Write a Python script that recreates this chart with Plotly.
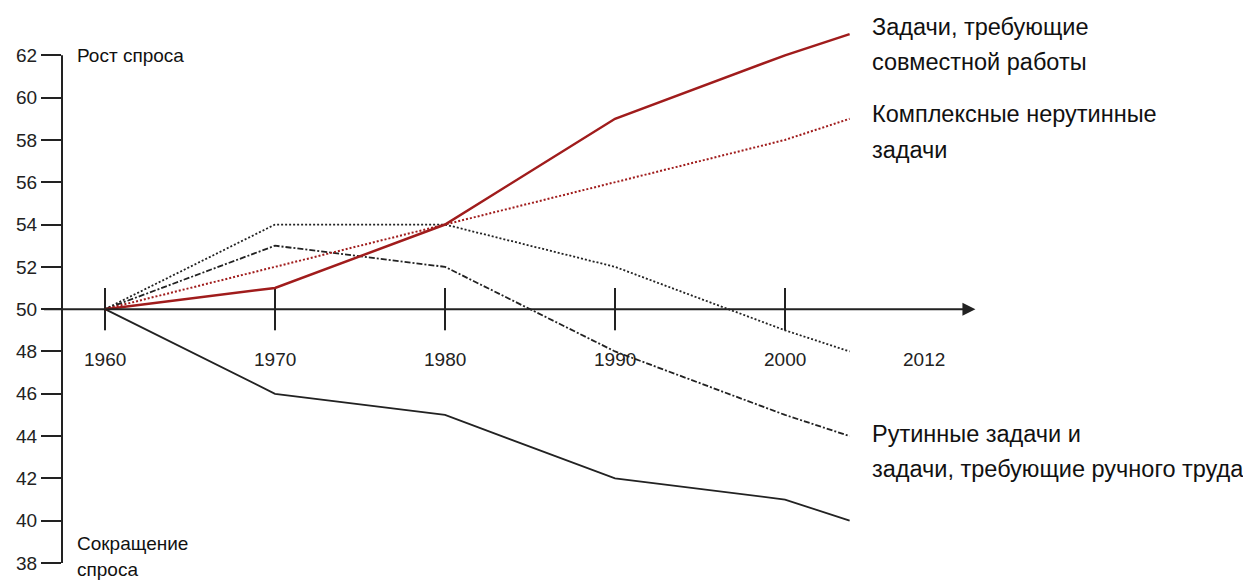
import plotly.graph_objects as go

# x positions of the points (last point is drawn short of the "2012" label)
years = [1960, 1970, 1980, 1990, 2000, 2003.8]
tick_years = [1960, 1970, 1980, 1990, 2000, 2008.2]
tick_text = ["1960", "1970", "1980", "1990", "2000", "2012"]
y_ticks = list(range(38, 63, 2))

collab = [50, 51, 54, 59, 62, 63]
complex_nonroutine = [50, 52, 54, 56, 58, 59]
routine_a = [50, 54, 54, 52, 49, 48]
routine_b = [50, 53, 52, 48, 45, 44]
manual = [50, 46, 45, 42, 41, 40]

RED = "#a01c1c"
INK = "#222222"
FONT = "Liberation Sans, Arial, sans-serif"

fig = go.Figure()
series = [
    (manual, INK, 1.8, "solid"),
    (routine_b, INK, 1.8, "6px,2px,2px,2px"),
    (routine_a, INK, 1.8, "2px,2px"),
    (complex_nonroutine, RED, 2, "2px,2px"),
    (collab, RED, 2.5, "solid"),
]
for vals, color, w, dash in series:
    fig.add_trace(go.Scatter(x=years, y=vals, mode="lines",
                             line=dict(color=color, width=w, dash=dash),
                             hoverinfo="skip", showlegend=False))

# vertical axis line only from 38 to 62
fig.add_shape(type="line", xref="paper", x0=0, x1=0, y0=y_ticks[0], y1=y_ticks[-1],
              line=dict(color=INK, width=2))

# baseline axis with arrow
fig.add_annotation(x=2011.2, y=50, ax=-933, ay=0, showarrow=True,
                   arrowhead=2, arrowsize=1.3, arrowwidth=2, arrowcolor=INK, text="")

# decade tick marks and year labels
for yr in tick_years[:5]:
    fig.add_shape(type="line", x0=yr, x1=yr, y0=49, y1=51,
                  line=dict(color=INK, width=2), layer="below")
for yr, txt in zip(tick_years, tick_text):
    fig.add_annotation(x=yr, y=47.6, text=txt, showarrow=False,
                       font=dict(size=19, color=INK, family=FONT))


def label(lines, x, ys, size):
    for t, yy in zip(lines, ys):
        fig.add_annotation(x=x, y=yy, xref="paper", yref="paper", text=t,
                           showarrow=False, xanchor="left", yanchor="middle",
                           font=dict(size=size, color="#111", family=FONT))


def py(pix):
    return (563 - pix) / 550


lx = (870 - 62) / 1189
label(["Задачи, требующие", "совместной работы"], lx, [py(27), py(62)], 23.5)
label(["Комплексные нерутинные", "задачи"], lx, [py(114), py(150)], 23.5)
label(["Рутинные задачи и", "задачи, требующие ручного труда"], lx, [py(434), py(469)], 23.5)
label(["Рост спроса"], (75 - 62) / 1189, [py(56)], 19)
label(["Сокращение", "спроса"], (75 - 62) / 1189, [py(543), py(569)], 19)

fig.update_layout(
    width=1243, height=572, plot_bgcolor="white", paper_bgcolor="white",
    margin=dict(l=54, r=0, t=5, b=17),
    font=dict(family=FONT, color=INK),
    xaxis=dict(range=[1957.47, 2027.41], visible=False),
    yaxis=dict(range=[38, 64], tickvals=y_ticks, showgrid=False, zeroline=False,
               showline=False,
               ticks="outside", ticklen=20, tickwidth=2, tickcolor=INK,
               tickfont=dict(size=19, color=INK, family=FONT)),
)

fig.write_html("out.html")
